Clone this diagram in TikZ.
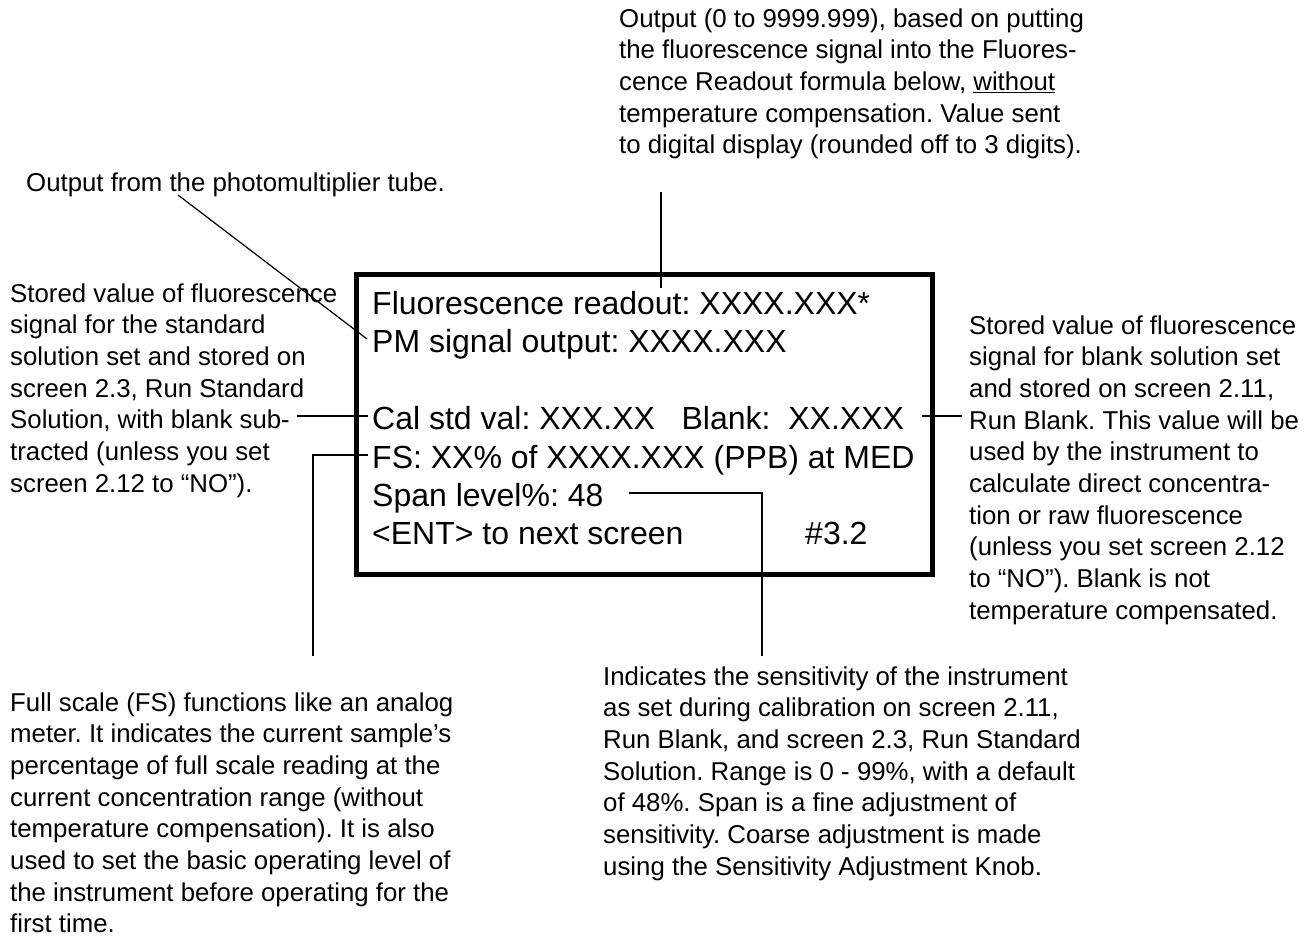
\documentclass[tikz,border=0pt]{standalone}
\usepackage{fontspec}
\setmainfont{Liberation Sans}
\frenchspacing
\begin{document}
\begin{tikzpicture}[x=1pt,y=-1pt,
  scrline/.style={anchor=base west,inner sep=0pt,text height=26pt,
    text depth=0pt,font=\fontsize{32}{38}\selectfont},
  note/.style={anchor=base west,inner sep=0pt,align=left,
    font=\fontsize{25.8}{31.7}\selectfont},
  lead/.style={line width=1.2pt}]
 \useasboundingbox (0,0) rectangle (1314,943);
 % screen 3.2
 \draw[line width=5pt] (356,274.5) rectangle (932.5,574.5);
 \foreach \nm/\yy/\txt in {
   readline/314/{Fluorescence readout: XXXX.XXX*},
   pmline/352/{PM signal output: XXXX.XXX},
   calline/429/{Cal std val: XXX.XX~~~Blank:~~XX.XXX},
   fsline/468/{FS: XX\% of XXXX.XXX (PPB) at MED},
   spanline/506/{Span level\%: 48},
   entline/544/{<ENT> to next screen}
 } {
   \node[scrline] (\nm) at (372,\yy) {\txt};
 }
 \node[scrline] (scrnum) at (805,544) {\#3.2};
 % notes (base = last line)
 \node[note] (readnote) at (619,153.8) {Output (0 to 9999.999), based on putting\\
   the fluorescence signal into the Fluores-\\
   cence Readout formula below, \underline{without}\\
   temperature compensation. Value sent\\
   to digital display (rounded off to 3 digits).};
 \node[note] (pmnote) at (26,191) {Output from the photomultiplier tube.};
 \node[note] (stdnote) at (10,492.2) {Stored value of fluorescence\\
   signal for the standard\\
   solution set and stored on\\
   screen 2.3, Run Standard\\
   Solution, with blank sub-\\
   tracted (unless you set\\
   screen 2.12 to “NO”).};
 \node[note] (blanknote) at (969,619.3) {Stored value of fluorescence\\
   signal for blank solution set\\
   and stored on screen 2.11,\\
   Run Blank. This value will be\\
   used by the instrument to\\
   calculate direct concentra-\\
   tion or raw fluorescence\\
   (unless you set screen 2.12\\
   to “NO”). Blank is not\\
   temperature compensated.};
 \node[note] (fsnote) at (10,932.9) {Full scale (FS) functions like an analog\\
   meter. It indicates the current sample’s\\
   percentage of full scale reading at the\\
   current concentration range (without\\
   temperature compensation). It is also\\
   used to set the basic operating level of\\
   the instrument before operating for the\\
   first time.};
 \node[note] (spannote) at (603,875.2) {Indicates the sensitivity of the instrument\\
   as set during calibration on screen 2.11,\\
   Run Blank, and screen 2.3, Run Standard\\
   Solution. Range is 0 - 99\%, with a default\\
   of 48\%. Span is a fine adjustment of\\
   sensitivity. Coarse adjustment is made\\
   using the Sensitivity Adjustment Knob.};
 % leaders
 \coordinate (readtip) at (661,192);
 \coordinate (pmtip) at (178,195);
 \coordinate (stdtip) at (297,416);
 \coordinate (blanktip) at (962,416);
 \coordinate (fstip) at (313,656);
 \coordinate (spantip) at (762,656);
 \draw[lead] (readtip) -- (readtip |- readline.north);
 \draw[lead] (pmtip) -- ([xshift=-5pt]pmline.west);
 \draw[lead] (stdtip) -- ([xshift=-4pt]calline.west);
 \draw[lead] ([xshift=18pt]calline.east) -- (blanktip);
 \draw[lead] ([xshift=-4pt]fsline.west) -| (fstip);
 \draw[lead] ([xshift=25pt]spanline.east) -| (spantip);
\end{tikzpicture}
\end{document}
